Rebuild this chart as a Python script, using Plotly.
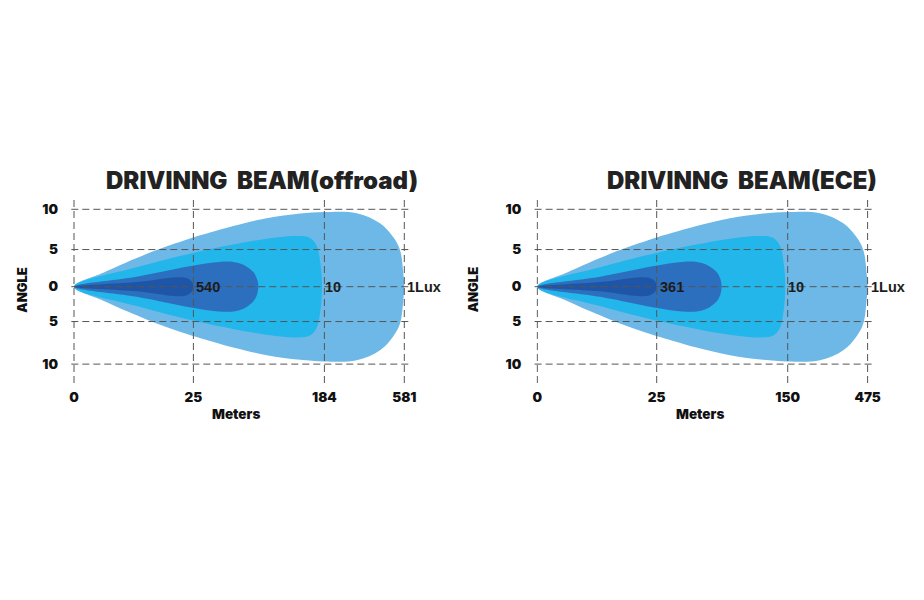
import plotly.graph_objects as go

# Beam chart data: two driving beams, four isolux contours each
titles = ["DRIVINNG  BEAM(offroad)", "DRIVINNG  BEAM(ECE)"]
dist_labels_offroad = ["0", "25", "184", "581"]
dist_labels_ece = ["0", "25", "150", "475"]
lux_labels_offroad = ["540", "10", "1Lux"]
lux_labels_ece = ["361", "10", "1Lux"]

# x positions of the distance ticks on the (non-linear) meters axis
dist_pos = [0, 119.4, 250.4, 330.3]
angle_ticks = [-10, -4.5, 0, 4.8, 10]
angle_text = ["10", "5", "0", "5", "10"]

# half-profiles of each contour (axis position, half-angle), tip -> far edge
outer_x = [0, 29.3, 62.7, 82.7, 120, 136, 159.3, 192.7, 226, 250, 282.7, 306, 319, 326, 329.3, 330.3]
outer_a = [0, 1.8, 3.7, 4.75, 6.4, 7.0, 7.85, 8.85, 9.45, 9.65, 9.5, 8.2, 6.45, 4.75, 1.75, 0]
ten_x = [0, 62.7, 120, 159.3, 192.7, 222.7, 236, 242.7, 246, 248]
ten_a = [0, 2.5, 4.4, 5.45, 6.2, 6.55, 6.3, 5.3, 3.4, 0]
mid_x = [0, 62.7, 120, 145, 159.3, 169.3, 179.3, 183.3, 184.3]
mid_a = [0, 1.3, 2.75, 3.2, 3.2, 2.85, 1.9, 0.9, 0]
core_x = [0, 62.7, 100, 112, 117.5, 119.4]
core_a = [0, 0.6, 1.2, 1.15, 0.7, 0]

contours = [(outer_x, outer_a, "#6db8e6"),
            (ten_x, ten_a, "#22b6ea"),
            (mid_x, mid_a, "#2c6fbe"),
            (core_x, core_a, "#1f55a6")]

# page body has an 8px margin, so the figure is 16px smaller than the window
W, H, OFF = 908, 584, 8


def px(x):
    return (x - OFF) / W


def py(y):
    return 1 - (y - OFF) / H


x_domains = [[px(73), px(410)], [px(536.3), px(873.3)]]
y_domain = [py(383), py(199)]
title_x = [px(261.7), px(742)]
angle_x = [px(21.7), px(473.3)]
meters_x = [px(236), px(699.7)]

heavy = "Inter"
fig = go.Figure()
shapes = []
annotations = []
grid = dict(color="#555555", width=1, dash="7px,4px")
tick_font = dict(family=heavy, size=13.5, color="#111111", weight=900)

for i, (dist_labels, lux_labels) in enumerate([(dist_labels_offroad, lux_labels_offroad),
                                               (dist_labels_ece, lux_labels_ece)]):
    xa = "x" if i == 0 else "x2"
    ya = "y" if i == 0 else "y2"
    for cx, ca, col in contours:
        xs = cx + cx[::-1][1:]
        ys = ca + [-v for v in ca[::-1][1:]]
        fig.add_trace(go.Scatter(x=xs, y=ys, xaxis=xa, yaxis=ya, mode="lines",
                                 line=dict(color=col, width=0, shape="spline"),
                                 fill="toself", fillcolor=col, hoverinfo="skip",
                                 showlegend=False))
    # dashed grid drawn above the beam
    for p in dist_pos:
        shapes.append(dict(type="line", xref=xa, yref=ya + " domain", x0=p, x1=p,
                           y0=0, y1=1, line=grid, layer="above"))
    for a in angle_ticks:
        shapes.append(dict(type="line", xref=xa + " domain", yref=ya, x0=-0.005, x1=1,
                           y0=a, y1=a, line=grid, layer="above"))
    # lux value labels at the far edge of each contour
    for (cx, _, _), lab in zip([contours[3], contours[1], contours[0]], lux_labels):
        annotations.append(dict(x=cx[-1], y=0, xref=xa, yref=ya, text="<b>%s</b>" % lab,
                                showarrow=False, xanchor="left", yanchor="middle", xshift=1,
                                font=dict(family="Liberation Sans", size=14.5, color="#1c1c1c")))
    annotations.append(dict(x=title_x[i], y=py(180), xref="paper", yref="paper",
                            text=titles[i].replace(" ", "&nbsp;"), showarrow=False,
                            xanchor="center", yanchor="middle",
                            font=dict(family=heavy, size=24, color="#222222", weight=900)))
    annotations.append(dict(x=angle_x[i], y=py(290), xref="paper", yref="paper",
                            text="ANGLE", textangle=-90, showarrow=False,
                            xanchor="center", yanchor="middle",
                            font=dict(family=heavy, size=13, color="#111111", weight=900)))
    annotations.append(dict(x=meters_x[i], y=py(414), xref="paper", yref="paper",
                            text="Meters", showarrow=False, xanchor="center",
                            yanchor="middle",
                            font=dict(family=heavy, size=13.5, color="#111111", weight=900)))

    axis_x = dict(domain=x_domains[i], range=[-1, 336], showgrid=False, zeroline=False,
                  showline=False, tickmode="array", tickvals=dist_pos, ticktext=dist_labels,
                  tickfont=tick_font, ticks="", ticklabelstandoff=4, automargin=False,
                  fixedrange=True, anchor=ya)
    axis_y = dict(domain=y_domain, range=[-12.44, 11.33], showgrid=False, zeroline=False,
                  showline=False, tickmode="array", tickvals=angle_ticks, ticktext=angle_text,
                  tickfont=tick_font, ticks="", ticklabelstandoff=14, automargin=False,
                  anchor=xa, fixedrange=True)
    if i == 0:
        fig.update_layout(xaxis=axis_x, yaxis=axis_y)
    else:
        fig.update_layout(xaxis2=axis_x, yaxis2=axis_y)

fig.update_layout(width=W, height=H, margin=dict(l=0, r=0, t=0, b=0),
                  paper_bgcolor="white", plot_bgcolor="white",
                  shapes=shapes, annotations=annotations, showlegend=False)

fig.write_html("out.html")
